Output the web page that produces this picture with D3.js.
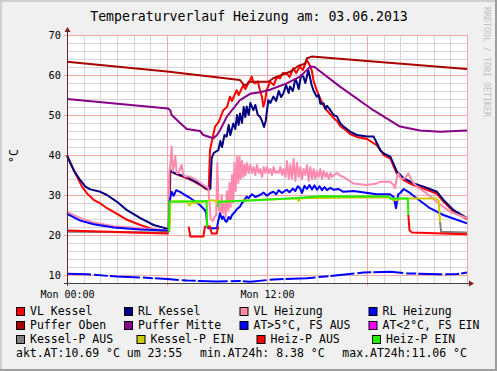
<!DOCTYPE html>
<html><head><meta charset="utf-8">
<script src="https://cdn.jsdelivr.net/npm/d3@7"></script>
<style>
body{margin:0;background:#f0f0f0}
svg{display:block}
text{font-family:"DejaVu Sans Mono",monospace}
</style>
</head><body>
<svg id="chart" width="497" height="371"></svg>
<script>
// ---------- data (hour of day, °C) ----------
const title = "Temperaturverlauf Heizung am: 03.06.2013";
const yTickValues = [10, 20, 30, 40, 50, 60, 70];
const xTickHours = [0, 12];
const xTickLabels = ["Mon 00:00", "Mon 12:00"];
const statsLine = ["akt.AT:10.69 °C um 23:55", "min.AT24h: 8.38 °C", "max.AT24h:11.06 °C"];

const vlKessel = [[0,39.8],[0.3,37.2],[0.5,35.4],[0.9,32.1],[1.2,30.4],[1.6,28.8],[2.0,27.9],[2.4,26.7],[3.0,25.3],[3.6,23.8],[4.4,22.5],[5.2,21.4],[6.0,20.8],[6.1,21.0],[6.15,23.5],[6.2,36.0],[6.4,35.5],[6.8,34.8],[7.2,34.2],[7.6,33.4],[8.0,32.5],[8.3,31.6],[8.5,31.2],[8.58,41.2],[8.88,47.1],[9.1,48.2],[9.38,51.2],[9.6,52.0],[9.78,54.6],[9.9,53.5],[10.18,56.2],[10.3,55.0],[10.58,57.5],[10.7,56.5],[10.98,58.7],[11.08,59.6],[11.18,58.2],[11.28,57.9],[11.45,58.4],[11.58,56.2],[11.7,54.5],[11.78,52.1],[11.88,53.5],[11.98,56.2],[12.18,58.3],[12.4,57.5],[12.6,59.5],[12.78,59.2],[12.95,60.5],[13.18,60.4],[13.35,59.5],[13.58,61.7],[13.75,60.5],[13.98,62.1],[14.15,61.2],[14.38,63.7],[14.5,63.0],[14.68,61.2],[14.8,58.5],[14.98,56.2],[15.2,54.0],[15.4,52.3],[15.58,51.2],[15.8,50.2],[16.0,49.2],[16.2,48.5],[16.4,47.2],[16.6,46.6],[17.0,45.2],[17.4,44.5],[18.0,44.0],[18.6,42.4],[19.0,40.0],[19.4,39.1],[19.8,35.3],[20.2,33.7],[20.8,32.4],[21.4,31.6],[22.2,30.3],[22.6,28.3],[23.2,25.8],[24.0,24.0]];

const rlKessel = [[0,39.9],[0.2,38.0],[0.4,36.2],[0.8,33.7],[1.1,32.1],[1.4,31.4],[2.0,30.8],[2.4,30.0],[3.0,28.3],[3.6,26.2],[4.4,24.2],[5.2,22.5],[6.0,21.6],[6.1,21.4],[6.18,36.2],[6.4,35.6],[6.8,35.0],[7.2,34.4],[7.6,33.6],[8.0,32.7],[8.3,31.8],[8.5,31.4],[8.6,31.6],[8.68,39.2],[8.8,40.5],[9.08,41.2],[9.2,43.5],[9.3,42.0],[9.45,45.0],[9.58,44.6],[9.7,47.5],[9.8,45.0],[9.98,47.9],[10.1,46.5],[10.2,50.0],[10.3,47.5],[10.38,50.4],[10.5,48.0],[10.6,52.0],[10.7,49.5],[10.78,52.1],[10.9,50.0],[11.0,53.0],[11.18,51.2],[11.3,52.5],[11.45,50.0],[11.58,49.6],[11.7,48.5],[11.82,47.0],[11.92,48.5],[12.08,53.7],[12.2,53.0],[12.38,54.6],[12.55,53.5],[12.7,56.0],[12.85,54.5],[12.98,55.4],[13.15,57.5],[13.3,55.5],[13.38,57.1],[13.55,56.0],[13.7,59.0],[13.78,58.3],[13.9,56.5],[14.05,60.0],[14.18,59.6],[14.3,58.0],[14.48,61.2],[14.6,59.0],[14.68,57.5],[14.8,56.0],[14.98,54.6],[15.1,55.0],[15.2,52.8],[15.4,52.9],[15.5,51.5],[15.6,52.3],[15.8,51.2],[16.0,50.0],[16.2,49.6],[16.4,47.9],[16.6,47.1],[17.0,45.8],[17.4,45.0],[18.0,44.6],[18.4,44.6],[18.6,42.9],[18.8,41.2],[19.0,40.4],[19.4,39.6],[19.8,35.8],[20.2,34.2],[20.8,32.9],[21.4,32.1],[22.2,30.8],[22.6,28.7],[23.2,26.2],[24.0,24.2]];

const vlHeizung = [[0,25.8],[0.8,24.2],[1.6,23.1],[2.8,22.2],[4.4,21.7],[6.0,21.2],[6.1,21.2],[6.14,35.8],[6.22,38.0],[6.28,42.1],[6.34,36.0],[6.4,37.0],[6.5,39.6],[6.58,35.5],[6.68,35.4],[6.78,36.5],[6.88,37.5],[6.98,35.0],[7.08,34.6],[7.38,34.6],[7.78,33.7],[8.18,32.5],[8.48,31.7],[8.55,28.0],[8.62,24.0],[8.75,23.5],[8.85,24.5],[8.95,25.0],[9.02,38.0],[9.1,27.0],[9.2,24.8],[9.28,30.0],[9.35,25.5],[9.45,28.0],[9.52,24.5],[9.6,31.0],[9.68,26.0],[9.75,33.0],[9.82,27.0],[9.9,35.0],[9.96,28.0],[10.05,38.0],[10.12,31.0],[10.2,39.5],[10.28,33.0],[10.35,39.6],[10.42,34.0],[10.5,38.5],[10.58,34.5],[10.65,37.5],[10.72,35.0],[10.8,38.0],[10.9,35.5],[11.0,37.5],[11.1,35.5],[11.2,37.0],[11.3,35.0],[11.4,37.5],[11.5,35.5],[11.6,36.5],[11.7,34.5],[11.8,37.0],[11.9,35.5],[12.0,37.0],[12.1,35.5],[12.2,36.5],[12.3,35.0],[12.4,37.0],[12.5,35.5],[12.6,36.0],[12.7,35.5],[12.8,37.0],[12.9,35.0],[13.0,36.5],[13.1,34.5],[13.2,38.5],[13.3,34.0],[13.4,37.5],[13.5,34.0],[13.6,39.0],[13.7,33.5],[13.8,38.0],[13.9,34.5],[14.0,37.0],[14.1,34.0],[14.2,36.5],[14.3,35.0],[14.4,37.5],[14.5,33.5],[14.6,37.0],[14.7,34.0],[14.8,36.5],[14.9,34.0],[15.0,36.0],[15.1,34.5],[15.2,36.5],[15.3,34.0],[15.4,36.0],[15.5,34.5],[15.6,35.5],[15.7,34.0],[15.8,35.5],[15.9,34.5],[16.0,35.0],[16.2,35.5],[16.4,34.8],[16.6,34.5],[17.18,32.9],[17.98,32.5],[18.58,32.9],[18.78,33.3],[19.38,33.3],[19.6,32.5],[19.68,31.7],[19.8,34.5],[19.88,35.4],[20.05,34.0],[20.28,34.2],[20.48,35.4],[20.7,33.5],[20.98,32.1],[21.58,30.4],[22.18,28.3],[22.98,25.8],[24.0,24.2]];

const rlHeizung = [[0,25.3],[0.8,23.6],[1.6,22.7],[2.8,21.9],[4.4,21.4],[6.0,21.1],[6.1,21.1],[6.16,28.5],[6.28,30.8],[6.4,29.8],[6.55,31.2],[6.78,30.8],[7.08,30.0],[7.3,29.5],[7.58,28.7],[7.98,27.5],[8.28,26.2],[8.35,25.5],[8.42,22.0],[8.48,21.7],[9.0,21.7],[9.05,23.0],[9.18,25.4],[9.3,24.0],[9.38,24.6],[9.5,23.5],[9.58,23.3],[9.7,24.5],[9.8,24.0],[9.9,25.0],[10.08,25.8],[10.2,26.5],[10.38,27.1],[10.5,28.0],[10.6,28.5],[10.78,29.6],[10.9,29.2],[11.1,30.2],[11.3,29.5],[11.58,30.0],[11.8,30.6],[12.0,29.8],[12.2,30.5],[12.38,30.8],[12.55,30.2],[12.7,31.2],[12.9,30.5],[13.18,31.3],[13.35,30.7],[13.55,31.6],[13.7,31.0],[13.85,32.2],[13.98,31.7],[14.1,30.5],[14.25,32.3],[14.4,31.5],[14.55,32.5],[14.7,31.4],[14.85,32.4],[15.0,31.3],[15.15,32.2],[15.3,31.2],[15.45,32.0],[15.6,31.2],[15.8,31.8],[16.0,31.3],[16.3,31.5],[16.58,30.8],[17.2,31.0],[18.58,30.2],[19.38,30.2],[19.6,29.5],[19.74,26.7],[19.88,30.2],[20.0,30.5],[20.2,31.5],[20.48,30.8],[20.98,29.2],[21.78,26.7],[22.58,25.0],[24.0,22.9]];

const pufferOben = [[0,63.3],[6.0,60.9],[10.38,58.75],[10.6,57.6],[10.75,57.4],[10.9,58.3],[12.08,58.3],[12.38,59.2],[13.38,60.8],[13.9,62.3],[14.28,62.8],[14.4,64.2],[14.68,64.6],[18.38,63.4],[24.0,61.5]];

const pufferMitte = [[0,54.0],[6.06,51.6],[6.2,51.2],[6.28,50.0],[6.58,48.8],[7.18,46.5],[7.98,46.0],[8.18,45.0],[8.78,44.2],[9.0,45.0],[9.18,46.2],[9.58,49.5],[9.78,50.6],[10.38,53.7],[10.98,55.3],[11.58,55.7],[12.18,56.3],[13.18,57.9],[13.98,59.6],[14.6,62.1],[14.85,62.0],[16.38,57.1],[18.38,51.2],[19.98,47.1],[21.18,46.1],[22.38,45.8],[24.0,46.1]];

const atWarm = [[0,10.3],[1.2,10.2],[3.0,9.6],[4.4,9.4],[6.0,9.0],[7.2,8.6],[9.0,8.4],[10.4,8.5],[11.0,8.3],[12.4,8.9],[14.4,9.2],[15.8,9.75],[17.8,10.6],[19.4,10.8],[20.4,10.4],[22.4,10.2],[23.4,10.25],[24.0,10.6]];
const atCold = [];

const kesselPAus = [[0,20.8],[6.1,20.6],[6.11,null],[22.38,23.3],[22.45,20.8],[24.0,20.6]];
const kesselPEin = [[6.15,20.8],[6.2,28.4],[7.2,28.4],[7.35,27.3],[7.45,28.0],[8.0,28.1],[8.3,28.4],[8.7,28.7],[9.2,28.3],[11.0,28.7],[13.8,29.2],[13.9,28.5],[14.0,29.2],[17.0,29.4],[19.3,29.4],[19.5,28.8],[19.8,28.75],[20.0,29.1],[22.18,29.1],[22.3,28.6],[22.38,23.3]];
const heizPAus = [[0,21.1],[6.0,20.4],[6.1,20.4],[6.11,null],[7.3,22.1],[7.4,19.6],[8.18,19.6],[8.28,22.1],[8.58,22.1],[8.68,20.4],[8.98,20.4],[9.08,22.1],[9.09,null],[20.48,25.0],[20.55,21.2],[20.7,20.6],[24.0,20.2]];
const heizPEin = [[6.1,21.0],[6.15,28.3],[8.38,28.5],[8.4,22.0],[8.41,null],[9.05,27.1],[9.1,28.3],[11.0,28.6],[13.58,29.2],[15.2,29.7],[19.3,29.6],[19.45,29.1],[20.45,29.1],[20.48,25.0]];

// ---------- series styling ----------
const series = [
  {name:"VL Kessel", data:vlKessel, color:"#ff0000"},
  {name:"RL Kessel", data:rlKessel, color:"#000080"},
  {name:"VL Heizung", data:vlHeizung, color:"#ff8aae"},
  {name:"RL Heizung", data:rlHeizung, color:"#0000ff"},
  {name:"Puffer Oben", data:pufferOben, color:"#aa0000"},
  {name:"Puffer Mitte", data:pufferMitte, color:"#880088"},
  {name:"AT>5°C, FS AUS", data:atWarm, color:"#0000ff", dash:"24,3,14,2,30,3,10,2"},
  {name:"AT<2°C, FS EIN", data:atCold, color:"#ff00ff"},
  {name:"Kessel-P AUS", data:kesselPAus, color:"#808080"},
  {name:"Kessel-P EIN", data:kesselPEin, color:"#cccc00"},
  {name:"Heiz-P AUS", data:heizPAus, color:"#ff0000"},
  {name:"Heiz-P EIN", data:heizPEin, color:"#22ee00"}
];

// ---------- layout ----------
const W = 497, H = 371;
const plot = {left:67, right:467, top:35, bottom:283};
const svg = d3.select("#chart");

svg.append("rect").attr("width", W).attr("height", H).attr("fill", "#f0f0f0");
// border shading
svg.append("rect").attr("x",0).attr("y",0).attr("width",W).attr("height",2).attr("fill","#cfcfcf");
svg.append("rect").attr("x",0).attr("y",0).attr("width",2).attr("height",H).attr("fill","#cfcfcf");
svg.append("rect").attr("x",W-2).attr("y",0).attr("width",2).attr("height",H).attr("fill","#9e9e9e");
svg.append("rect").attr("x",0).attr("y",H-2).attr("width",W).attr("height",2).attr("fill","#9e9e9e");

const x = d3.scaleLinear().domain([0, 24]).range([plot.left, plot.right]);
const y = d3.scaleLinear().domain([8, 70]).range([plot.bottom, plot.top]);

svg.append("rect").attr("x", plot.left).attr("y", plot.top)
  .attr("width", plot.right - plot.left).attr("height", plot.bottom - plot.top).attr("fill", "#fff");

// grid
const g = svg.append("g");
const minorY = d3.range(8, 71, 2).filter(v => v % 10 !== 0);
const minorX = d3.range(0, 25, 1).filter(h => h % 6 !== 0);
g.selectAll(".hminor").data(minorY).join("line")
  .attr("x1", plot.left).attr("x2", plot.right)
  .attr("y1", d => Math.round(y(d)) + 0.5).attr("y2", d => Math.round(y(d)) + 0.5)
  .attr("stroke", "#d6d6d6").attr("stroke-width", 1);
g.selectAll(".vminor").data(minorX).join("line")
  .attr("y1", plot.top).attr("y2", plot.bottom)
  .attr("x1", d => Math.round(x(d)) + 0.5).attr("x2", d => Math.round(x(d)) + 0.5)
  .attr("stroke", "#d6d6d6").attr("stroke-width", 1);
g.selectAll(".hmajor").data(yTickValues).join("line")
  .attr("x1", plot.left - 3).attr("x2", plot.right)
  .attr("y1", d => Math.round(y(d)) + 0.5).attr("y2", d => Math.round(y(d)) + 0.5)
  .attr("stroke", "#f2a6a6").attr("stroke-width", 1);
g.selectAll(".vmajor").data([0, 6, 12, 18, 24]).join("line")
  .attr("y1", plot.top).attr("y2", plot.bottom + 3)
  .attr("x1", d => Math.round(x(d)) + 0.5).attr("x2", d => Math.round(x(d)) + 0.5)
  .attr("stroke", "#f2a6a6").attr("stroke-width", 1);

// lines
const line = d3.line()
  .defined(d => d[1] !== null)
  .x(d => x(d[0])).y(d => y(d[1]));
const lg = svg.append("g").attr("fill", "none").attr("stroke-linejoin", "round");
series.forEach(s => {
  if (!s.data.length) return;
  lg.append("path").datum(s.data).attr("d", line)
    .attr("stroke", s.color).attr("stroke-width", 2)
    .attr("stroke-dasharray", s.dash || null);
});

// axes lines
const axisColor = "#5a2a2a";
svg.append("line").attr("x1", plot.left - 3).attr("x2", plot.right + 2)
  .attr("y1", plot.bottom + 0.5).attr("y2", plot.bottom + 0.5).attr("stroke", "#444").attr("stroke-width", 1);
svg.append("line").attr("x1", plot.left + 0.5).attr("x2", plot.left + 0.5)
  .attr("y1", plot.bottom + 3).attr("y2", plot.top - 3).attr("stroke", axisColor).attr("stroke-width", 1);
svg.append("path").attr("d", `M${plot.right+2},${plot.bottom-2.5} L${plot.right+7},${plot.bottom+0.5} L${plot.right+2},${plot.bottom+3.5}Z`).attr("fill", "#802020");
svg.append("path").attr("d", `M${plot.left-2.5},${plot.top-3} L${plot.left+0.5},${plot.top-8} L${plot.left+3.5},${plot.top-3}Z`).attr("fill", "#802020");

// axis labels via d3 axes
const yAxis = svg.append("g").attr("transform", `translate(${plot.left},0)`)
  .call(d3.axisLeft(y).tickValues(yTickValues).tickSize(0).tickPadding(6));
yAxis.select(".domain").remove();
yAxis.selectAll("text").attr("font-family", "DejaVu Sans Mono").attr("font-size", "10.3px").attr("fill", "#000");

const xAxis = svg.append("g").attr("transform", `translate(0,${plot.bottom})`)
  .call(d3.axisBottom(x).tickValues(xTickHours).tickFormat((d, i) => xTickLabels[i]).tickSize(0).tickPadding(7.4));
xAxis.select(".domain").remove();
xAxis.selectAll("text").attr("font-family", "DejaVu Sans Mono").attr("font-size", "10px").attr("fill", "#000");

// title
svg.append("text").attr("x", 249).attr("y", 21).attr("text-anchor", "middle")
  .attr("font-size", "13.2px").attr("fill", "#000").text(title);

// vertical label
svg.append("text").attr("transform", "translate(18,156) rotate(-90)").attr("text-anchor", "middle")
  .attr("font-size", "11.5px").attr("fill", "#000").text("°C");

// watermark
svg.append("text").attr("transform", "translate(484,62) rotate(90)").attr("text-anchor", "middle")
  .attr("font-size", "8.3px").attr("fill", "#c0c0c0").text("RRDTOOL / TOBI OETIKER");

// legend
const legendPos = [
  [16, 315], [124, 315], [239.5, 315], [368.5, 315],
  [16, 329], [124, 329], [239.5, 329], [368.5, 329],
  [16, 343], [136.5, 343], [256.5, 343], [372, 343]
];
const leg = svg.append("g");
series.forEach((s, i) => {
  const [lx, ly] = legendPos[i];
  leg.append("rect").attr("x", lx + 0.5).attr("y", ly - 7.5).attr("width", 8).attr("height", 8)
    .attr("fill", s.color).attr("stroke", "#000").attr("stroke-width", 1);
  leg.append("text").attr("x", lx + 14).attr("y", ly).attr("font-size", "11.5px").attr("fill", "#000").text(s.name);
});
const statsX = [16, 200, 342.3];
statsLine.forEach((t, i) => {
  leg.append("text").attr("x", statsX[i]).attr("y", 357).attr("font-size", "11.5px").attr("fill", "#000").text(t);
});
</script>
</body></html>
